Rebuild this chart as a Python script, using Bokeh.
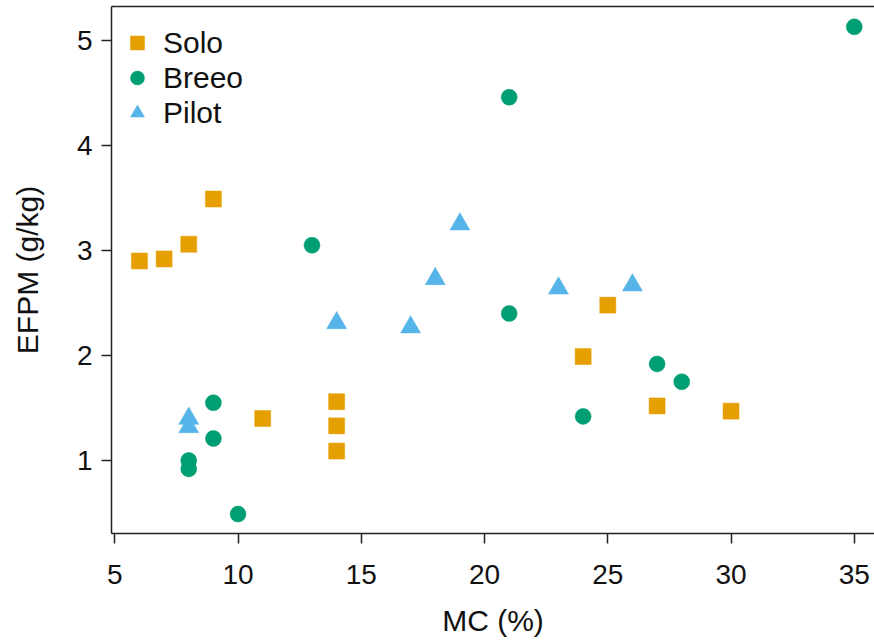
from bokeh.plotting import figure
from bokeh.models import (ColumnDataSource, Range1d, FixedTicker, LinearAxis,
                          Legend, LegendItem)
from bokeh.embed import file_html
from bokeh.resources import INLINE

# Moisture content (%) and PM emission factor (g/kg) for each stove
solo_mc = [6, 7, 8, 9, 11, 14, 14, 14, 24, 25, 27, 30]
solo_efpm = [2.90, 2.92, 3.06, 3.49, 1.40, 1.56, 1.33, 1.09, 1.99, 2.48, 1.52, 1.47]

breeo_mc = [8, 8, 9, 9, 10, 13, 21, 21, 24, 27, 28, 35]
breeo_efpm = [1.00, 0.92, 1.55, 1.21, 0.49, 3.05, 4.46, 2.40, 1.42, 1.92, 1.75, 5.13]

pilot_mc = [8, 8, 14, 17, 18, 19, 23, 26]
pilot_efpm = [1.40, 1.32, 2.31, 2.27, 2.73, 3.25, 2.64, 2.67]

x_ticks = [5, 10, 15, 20, 25, 30, 35]
y_ticks = [1, 2, 3, 4, 5]

ORANGE = "#E69F00"
GREEN = "#009E73"
BLUE = "#56B4E9"
INK = "#222222"
FONT = "Liberation Sans"

p = figure(width=874, height=640, output_backend="svg", toolbar_location=None,
           x_range=Range1d(4.866, 35.82), y_range=Range1d(0.305, 5.324),
           min_border_left=111, min_border_top=6, min_border_bottom=107,
           min_border_right=0, outline_line_color=None,
           background_fill_color="white", border_fill_color="white")
p.grid.visible = False

src_solo = ColumnDataSource(dict(x=solo_mc, y=solo_efpm))
src_breeo = ColumnDataSource(dict(x=breeo_mc, y=breeo_efpm))
src_pilot = ColumnDataSource(dict(x=pilot_mc, y=pilot_efpm))

r_solo = p.scatter("x", "y", source=src_solo, marker="square", size=16,
                   fill_color=ORANGE, line_color=ORANGE, line_width=0.5)
r_breeo = p.scatter("x", "y", source=src_breeo, marker="circle", size=16,
                    fill_color=GREEN, line_color=GREEN, line_width=0.5)
r_pilot = p.scatter("x", "y", source=src_pilot, marker="triangle", size=20,
                    fill_color=BLUE, line_color=BLUE, line_width=0.5)

def style_axis(ax):
    ax.axis_line_color = INK
    ax.axis_line_width = 1.5
    ax.major_tick_line_color = INK
    ax.major_tick_line_width = 1.5
    ax.major_tick_out = 10
    ax.major_tick_in = 0
    ax.minor_tick_line_color = None
    ax.major_label_text_font = FONT
    ax.major_label_text_font_size = "28px"
    ax.major_label_text_color = "#111111"
    ax.axis_label_text_font = FONT
    ax.axis_label_text_font_size = "30px"
    ax.axis_label_text_font_style = "normal"
    ax.axis_label_text_color = "#111111"

xa = p.xaxis[0]
style_axis(xa)
xa.ticker = FixedTicker(ticks=x_ticks)
xa.axis_label = "MC (%)"
xa.major_label_standoff = 21
xa.axis_label_standoff = 17

ya = p.yaxis[0]
style_axis(ya)
ya.ticker = FixedTicker(ticks=y_ticks)
ya.axis_label = "EFPM (g/kg)"
ya.major_label_standoff = 9
ya.axis_label_standoff = 30

# top edge of the box
top = LinearAxis(ticker=FixedTicker(ticks=[]), major_label_text_font_size="0px",
                 axis_line_color=INK, axis_line_width=1.5,
                 major_tick_line_color=None, minor_tick_line_color=None)
p.add_layout(top, "above")

legend = Legend(items=[LegendItem(label="Solo", renderers=[r_solo]),
                       LegendItem(label="Breeo", renderers=[r_breeo]),
                       LegendItem(label="Pilot", renderers=[r_pilot])],
                location=(6, 403), orientation="vertical",
                glyph_width=40, glyph_height=35, label_standoff=6,
                spacing=0, padding=0, margin=0,
                label_text_font=FONT, label_text_font_size="30px",
                label_text_color="#111111",
                border_line_color=None, background_fill_alpha=0)
p.add_layout(legend, "center")

open("out.html", "w").write(file_html(p, INLINE))
